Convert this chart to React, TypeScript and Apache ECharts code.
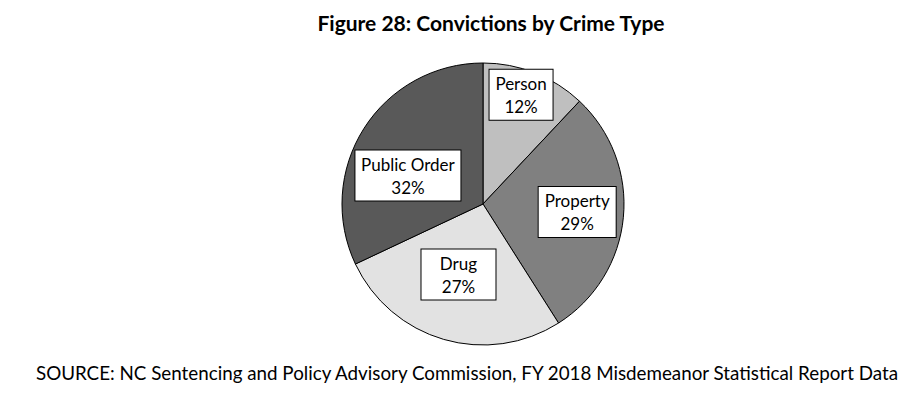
import React, { useEffect, useRef } from "react";
import * as echarts from "echarts";

const categories = ["Person", "Property", "Drug", "Public Order"];
const percents = [12, 29, 27, 32];
const sliceColors = ["#bfbfbf", "#808080", "#e2e2e2", "#595959"];
// label box placement (style) relative to default inside position
const labelOffsets = [[11, -41], [21, 1], [-4, 0], [-13, 11]];
const labelWidths = [57, 71, 68, 99];

const titleText = "Figure 28: Convictions by Crime Type";
const sourceText = "SOURCE: NC Sentencing and Policy Advisory Commission, FY 2018 Misdemeanor Statistical Report Data";

const FONT = "Lato, 'Open Sans', sans-serif";

export default function App() {
  const ref = useRef<HTMLDivElement>(null);
  useEffect(() => {
    if (!ref.current) return;
    const chart = echarts.init(ref.current, undefined, { renderer: "svg" });
    chart.setOption({
      animation: false,
      backgroundColor: "#ffffff",
      title: [
        {
          text: titleText,
          left: 486,
          textAlign: "center",
          top: 7,
          textStyle: { fontFamily: FONT, fontSize: 21, fontWeight: "bold", color: "#000" },
        },
        {
          text: sourceText,
          left: 462,
          textAlign: "center",
          top: 358,
          textStyle: { fontFamily: FONT, fontSize: 18.8, fontWeight: "normal", color: "#000" },
        },
      ],
      series: [
        {
          type: "pie",
          center: [483, 204],
          radius: 141,
          startAngle: 90,
          clockwise: true,
          silent: true,
          itemStyle: { borderColor: "#000", borderWidth: 1 },
          label: {
            show: true,
            position: "inside",
            formatter: (p: any) => `${p.name}\n${p.value}%`,
            fontFamily: FONT,
            fontSize: 17,
            lineHeight: 23,
            color: "#000",
            backgroundColor: "#fff",
            borderColor: "#000",
            borderWidth: 1,
            padding: [2, 3],
            align: "center",
          },
          labelLine: { show: false },
          data: categories.map((name, i) => ({
            name,
            value: percents[i],
            itemStyle: { color: sliceColors[i] },
            label: { offset: labelOffsets[i], width: labelWidths[i] },
          })),
        },
      ],
    });
    return () => chart.dispose();
  }, []);
  return (
    <div
      ref={ref}
      style={{ position: "fixed", left: 0, top: 0, width: 901, height: 398 }}
    />
  );
}
